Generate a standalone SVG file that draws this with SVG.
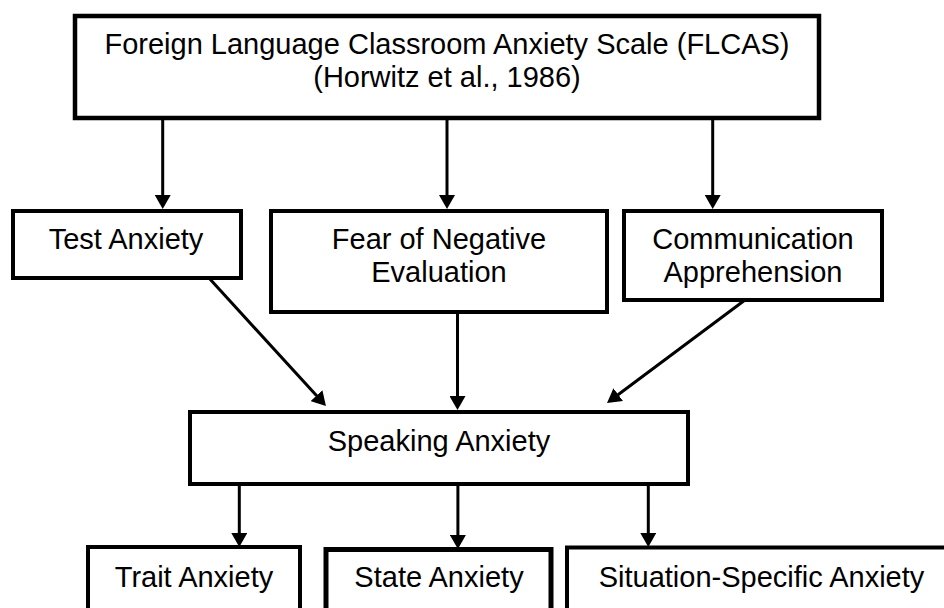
<svg xmlns="http://www.w3.org/2000/svg" width="944" height="608" viewBox="0 0 944 608">
<style>
.box{fill:#fff;stroke:#000;stroke-width:4}
.lbl{font-family:"Liberation Sans",Arial,sans-serif;font-size:29px;fill:#000;text-anchor:middle}
.con{stroke:#000;stroke-width:3;fill:none;marker-end:url(#ah)}
</style>
<defs>
<marker id="ah" markerUnits="userSpaceOnUse" viewBox="0 0 14 16" refX="4" refY="8" markerWidth="14" markerHeight="16" orient="auto">
<path d="M0,0 L14,8 L0,16 z" fill="#000"/>
</marker>
</defs>
<rect width="944" height="608" fill="#fff"/>
<g id="connectors">
<line class="con" x1="162.7" y1="118" x2="162.7" y2="199"/>
<line class="con" x1="447" y1="118" x2="447" y2="199"/>
<line class="con" x1="712.7" y1="118" x2="712.7" y2="199"/>
<line class="con" x1="209" y1="278" x2="319.2" y2="398.6"/>
<line class="con" x1="457.5" y1="312" x2="457.5" y2="400"/>
<line class="con" x1="745" y1="300" x2="615" y2="397"/>
<line class="con" x1="239.3" y1="484" x2="239.3" y2="537"/>
<line class="con" x1="457.9" y1="484" x2="457.9" y2="539"/>
<line class="con" x1="648.3" y1="484" x2="648.3" y2="537"/>
</g>
<g id="flcas">
<rect class="box" x="75" y="16" width="744" height="102" style="stroke-width:4.5"/>
<text class="lbl" x="447" y="54">Foreign Language Classroom Anxiety Scale (FLCAS)</text>
<text class="lbl" x="447" y="87">(Horwitz et al., 1986)</text>
</g>
<g id="test">
<rect class="box" x="13" y="211" width="228" height="67"/>
<text class="lbl" x="126" y="249">Test Anxiety</text>
</g>
<g id="fear">
<rect class="box" x="271" y="211" width="336" height="101"/>
<text class="lbl" x="439" y="249">Fear of Negative</text>
<text class="lbl" x="439" y="282">Evaluation</text>
</g>
<g id="comm">
<rect class="box" x="624" y="211" width="258" height="89"/>
<text class="lbl" x="753" y="249">Communication</text>
<text class="lbl" x="753" y="282">Apprehension</text>
</g>
<g id="speaking">
<rect class="box" x="190" y="412" width="498" height="72"/>
<text class="lbl" x="439" y="451">Speaking Anxiety</text>
</g>
<g id="trait">
<rect class="box" x="88" y="547" width="212" height="80"/>
<text class="lbl" x="194" y="587">Trait Anxiety</text>
</g>
<g id="state">
<rect class="box" x="326" y="549.5" width="225" height="80" style="stroke-width:5"/>
<text class="lbl" x="439" y="587">State Anxiety</text>
</g>
<g id="situation">
<rect class="box" x="567" y="547.5" width="400" height="80"/>
<text class="lbl" x="761.5" y="587">Situation-Specific Anxiety</text>
</g>
</svg>
